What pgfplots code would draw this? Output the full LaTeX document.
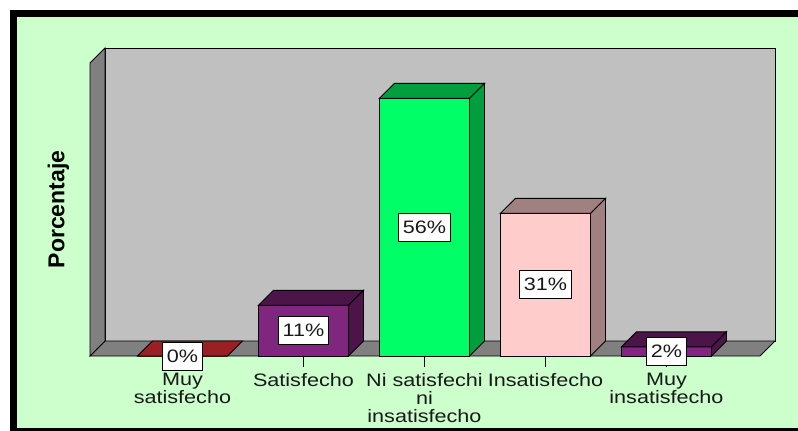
\documentclass[border=0pt]{standalone}
\usepackage{pgfplots}
\pgfplotsset{compat=1.18}
\usepackage{fontspec}
\setmainfont{Liberation Sans}
\newfontfamily\labfont[FakeStretch=1.2]{Liberation Sans}
\definecolor{bggreen}{HTML}{CCFFCC}
\definecolor{wallback}{HTML}{C0C0C0}
\definecolor{wallside}{HTML}{808080}
\definecolor{redtop}{HTML}{9B2024}
\definecolor{purfront}{HTML}{7F267F}
\definecolor{purdark}{HTML}{4B1549}
\definecolor{grnfront}{HTML}{00FF66}
\definecolor{grndark}{HTML}{009E3D}
\definecolor{pinkfront}{HTML}{FFCCCC}
\definecolor{pinkdark}{HTML}{A08080}
\begin{document}
\begin{tikzpicture}
\useasboundingbox (0,0) rectangle (798bp,431bp);
\fill[black] (10bp,-20bp) rectangle (820bp,421bp);
\fill[bggreen] (17bp,3bp) rectangle (820bp,414bp);
\begin{axis}[
  at={(90bp,75bp)}, anchor=south west,
  scale only axis, width=670bp, height=293bp,
  xmin=-0.764, xmax=4.773, ymin=0, ymax=63.7,
  clip=false,
  axis line style={draw=none},
  xtick={0,1,2,3,4},
  xticklabels={{Muy\\satisfecho},Satisfecho,{Ni satisfechi\\ni\\insatisfecho},Insatisfecho,{Muy\\insatisfecho}},
  ytick=\empty,
  tick align=outside, xtick pos=bottom,
  major tick length=11bp,
  tick style={black, line width=0.8bp},
  xticklabel style={font=\labfont\fontsize{18bp}{18bp}\selectfont, align=center, text=black!90, inner sep=2bp, yshift=-4bp},
  every axis y label/.style={at={(axis description cs:-0.047,0.5)}, rotate=90, anchor=center, font=\bfseries\fontsize{23bp}{27bp}\selectfont},
  ylabel={Porcentaje},
  every axis plot/.append style={line width=0.9bp},
]
% walls and floor
\addplot[fill=wallback, draw=black] coordinates {(-0.64,3.26) (4.897,3.26) (4.897,66.96) (-0.64,66.96)} -- cycle;
\addplot[fill=wallside, draw=black] coordinates {(-0.764,0) (4.773,0) (4.897,3.26) (-0.64,3.26)} -- cycle;
\addplot[fill=wallside, draw=black] coordinates {(-0.764,0) (-0.764,63.7) (-0.64,66.96) (-0.64,3.26)} -- cycle;
% bar 1: Muy satisfecho 0
\addplot[ybar, bar width=0.744, bar shift=0pt, fill=redtop, draw=black] coordinates {(0,0)};
\addplot[fill=redtop, draw=black] coordinates {(-0.372,0) (0.372,0) (0.496,3.26) (-0.248,3.26)} -- cycle;
% bar 2: Satisfecho 11
\addplot[ybar, bar width=0.744, bar shift=0pt, fill=purfront, draw=black] coordinates {(1,11)};
\addplot[fill=purdark, draw=black] coordinates {(0.628,11) (1.372,11) (1.496,14.26) (0.752,14.26)} -- cycle;
\addplot[fill=purdark, draw=black] coordinates {(1.372,0) (1.496,3.26) (1.496,14.26) (1.372,11)} -- cycle;
% bar 3: Ni satisfecho ni insatisfecho 56
\addplot[ybar, bar width=0.744, bar shift=0pt, fill=grnfront, draw=black] coordinates {(2,56)};
\addplot[fill=grndark, draw=black] coordinates {(1.628,56) (2.372,56) (2.496,59.26) (1.752,59.26)} -- cycle;
\addplot[fill=grndark, draw=black] coordinates {(2.372,0) (2.496,3.26) (2.496,59.26) (2.372,56)} -- cycle;
% bar 4: Insatisfecho 31
\addplot[ybar, bar width=0.744, bar shift=0pt, fill=pinkfront, draw=black] coordinates {(3,31)};
\addplot[fill=pinkdark, draw=black] coordinates {(2.628,31) (3.372,31) (3.496,34.26) (2.752,34.26)} -- cycle;
\addplot[fill=pinkdark, draw=black] coordinates {(3.372,0) (3.496,3.26) (3.496,34.26) (3.372,31)} -- cycle;
% bar 5: Muy insatisfecho 2
\addplot[ybar, bar width=0.744, bar shift=0pt, fill=purfront, draw=black] coordinates {(4,2)};
\addplot[fill=purdark, draw=black] coordinates {(3.628,2) (4.372,2) (4.496,5.26) (3.752,5.26)} -- cycle;
\addplot[fill=purdark, draw=black] coordinates {(4.372,0) (4.496,3.26) (4.496,5.26) (4.372,2)} -- cycle;
% data labels at mid-height of each bar
\addplot[draw=none, mark=none, nodes near coords, point meta=explicit symbolic,
  every node near coord/.append style={anchor=center, draw=black, fill=white, text=black!90,
    font=\labfont\fontsize{18bp}{20bp}\selectfont, inner xsep=4bp, inner ysep=0pt,
    minimum height=28bp, line width=0.8bp}]
  coordinates {(0,0) [0\%] (1,5.5) [11\%] (2,28) [56\%] (3,15.5) [31\%] (4,1) [2\%]};
\end{axis}
\end{tikzpicture}
\end{document}
